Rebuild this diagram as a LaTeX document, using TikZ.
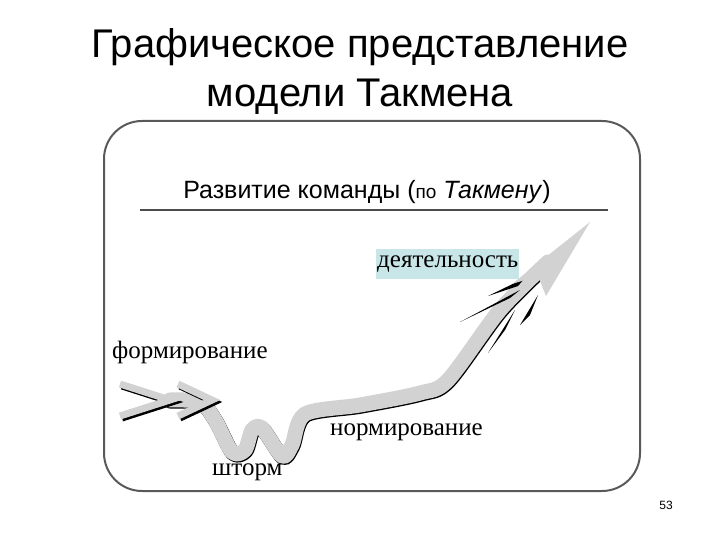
\documentclass[tikz,border=0pt]{standalone}
\usepackage{fontspec}
\setmainfont{Liberation Serif}
\newfontfamily\sansf{Liberation Sans}
\definecolor{boxc}{RGB}{200,230,232}
\begin{document}
\begin{tikzpicture}[x=1pt,y=-1pt,
  lbl/.style={font=\fontsize{25}{28}\selectfont, inner sep=1pt},
  ttl/.style={font=\sansf\fontsize{40}{46}\selectfont}]
\useasboundingbox (0,0) rectangle (720,540);
\node[ttl] (t1) at (360,47) {Графическое представление};
\node[ttl] (t2) at (360,97) {модели Такмена};
\draw[gray!70!black, line width=2pt, rounded corners=38pt] (104,121) rectangle (640,491);
\node[font=\sansf\fontsize{25}{28}\selectfont, anchor=base] (sub) at (367,199) {Развитие команды ({\fontsize{19}{22}\selectfont по} \textit{Такмену})};
\coordinate (la) at (140,210); \coordinate (lb) at (608,210);
\draw[gray!60!black, line width=2.5pt] (la) -- (lb);
\def\pth{(170,400) (200,402) (215,420) (232,452) (245,450) (252,430) (262,428) (282,456) (292,445) (305,414) (360,405) (420,393) (448,380) (500,310) (548,262)}
\draw[black, line width=15pt, line cap=round, line join=round, shift={(0.8,1.2)}] plot[smooth, tension=0.5] coordinates {\pth};
\draw[gray!35, line width=15pt, line cap=round, line join=round] plot[smooth, tension=0.5] coordinates {\pth};
\draw[black, line width=7pt, line join=miter, shift={(2,2)}] (120,384) -- (170,400) -- (120,416);
\draw[gray!35, line width=7pt, line join=miter] (120,384) -- (170,400) -- (120,416);
\draw[black, line width=7pt, line join=miter, shift={(2,2)}] (178,384) -- (212,400) -- (178,416);
\draw[gray!35, line width=7pt, line join=miter] (178,384) -- (212,400) -- (178,416);
\fill[black] (460,322) -- (520,290) -- (510,298) -- cycle;
\fill[black] (488,296) -- (525,278) -- (518,286) -- cycle;
\fill[black] (488,353) -- (515,310) -- (505,330) -- cycle;
\fill[black] (520,325) -- (538,295) -- (530,315) -- cycle;
\fill[gray!35] (590,222) -- (512,284) -- (538,276) -- (546,296) -- cycle;
\node[lbl, fill=boxc, anchor=west, minimum height=30pt] (d) at (376,264) {деятельность};
\node[lbl, anchor=west] (f) at (111,352) {формирование};
\node[lbl, anchor=west] (n) at (329,432) {нормирование};
\node[lbl, anchor=west] (s) at (211,472) {шторм};
\node[font=\sansf\fontsize{12}{14}\selectfont] (p) at (666,505) {53};
\end{tikzpicture}
\end{document}
